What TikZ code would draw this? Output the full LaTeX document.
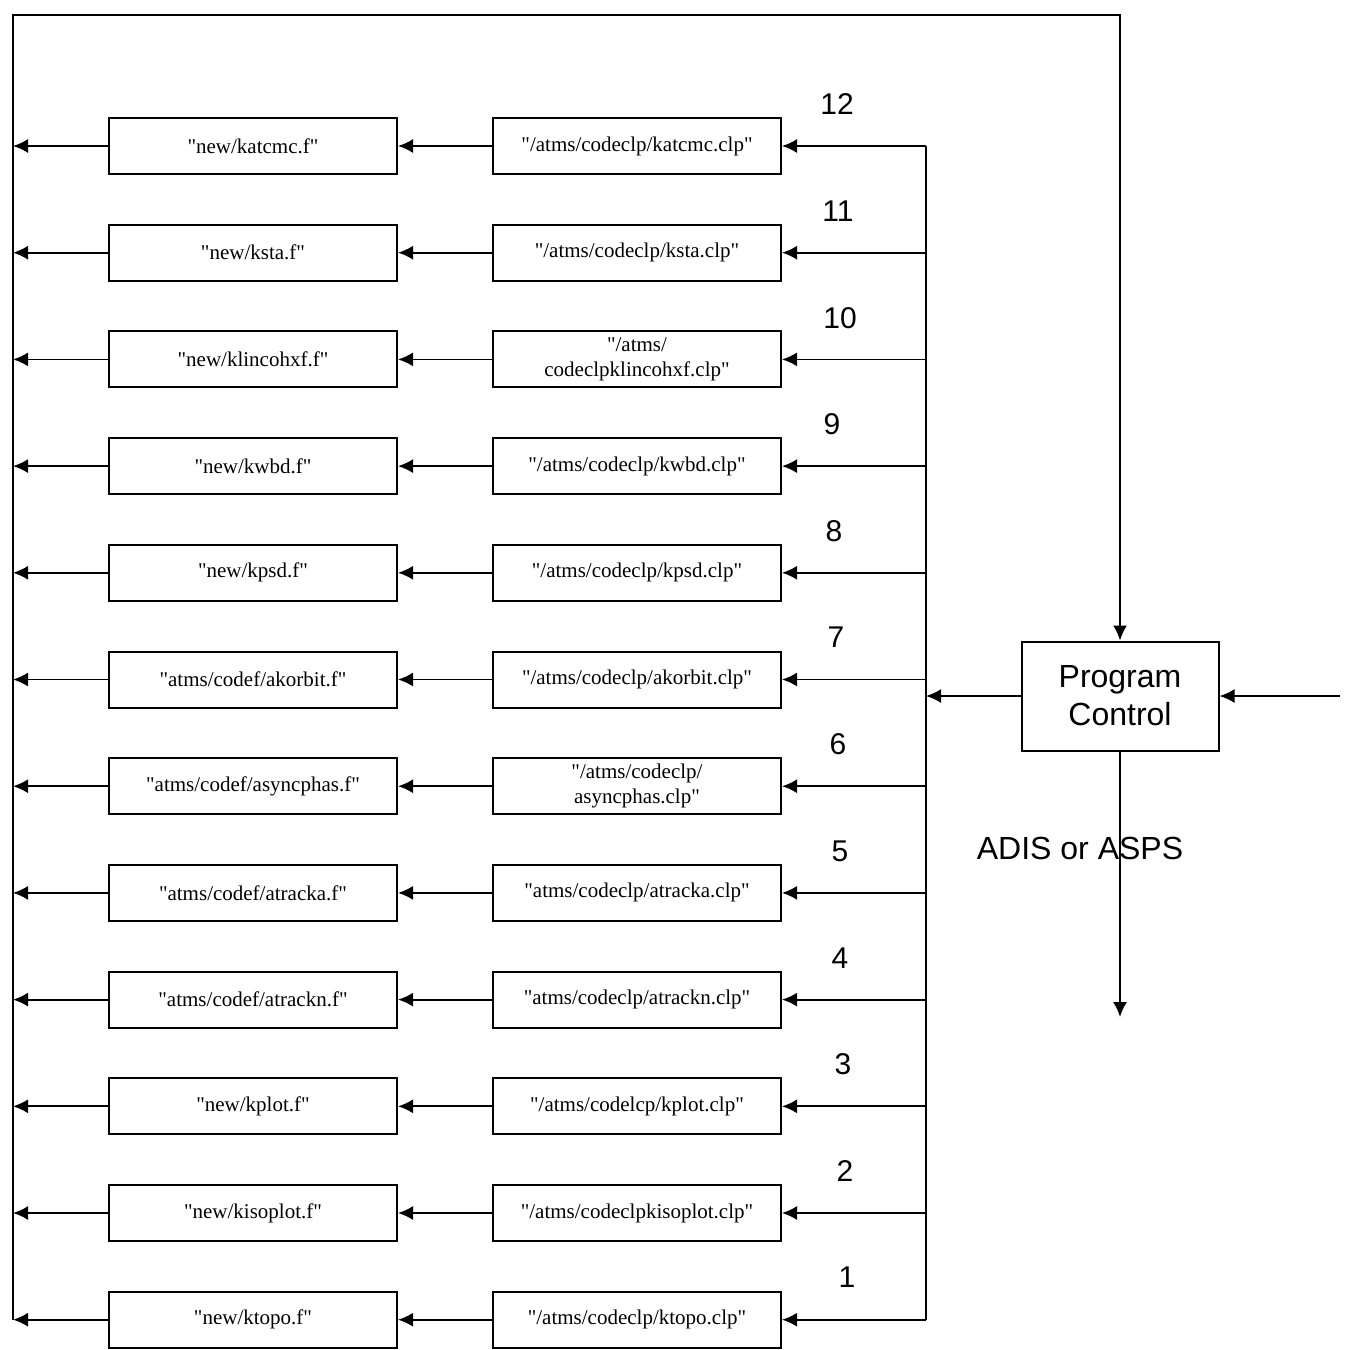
\documentclass[tikz,border=0pt]{standalone}
\usepackage{fontspec}
\setmainfont{Liberation Serif}[Ligatures=TeXOff]
\newfontfamily\arialfont{Liberation Sans}
\usetikzlibrary{arrows.meta,positioning}

\begin{document}
\begin{tikzpicture}[
    x=1pt, y=-1pt,
    node distance=94pt,
    srcbox/.style={rectangle, draw=black, line width=2pt, fill=white, minimum width=288pt, minimum height=56pt, align=center, inner sep=2pt, font=\fontsize{21}{25}\selectfont},
    outbox/.style={srcbox},
    ctrl/.style={rectangle, draw=black, line width=2pt, fill=white, minimum width=197pt, minimum height=109pt, align=center, font=\arialfont\fontsize{32}{38}\selectfont},
    num/.style={font=\arialfont\fontsize{30}{36}\selectfont, inner sep=0pt},
    arrow/.style={draw, -{Latex[length=15pt,width=14pt]}, line width=1.8pt},
    wire/.style={draw, line width=1.8pt}
]
\useasboundingbox (0,0) rectangle (1350,1350);

% clp sources and the f files they produce
\node [srcbox] (c12) at (637,146) {"/atms/codeclp/katcmc.clp"};
\node [outbox, left=of c12] (f12) {"new/katcmc.f"};
\node [srcbox] (c11) at (637,252.7) {"/atms/codeclp/ksta.clp"};
\node [outbox, left=of c11] (f11) {"new/ksta.f"};
\node [srcbox] (c10) at (637,359.4) {"/atms/\\codeclpklincohxf.clp"};
\node [outbox, left=of c10] (f10) {"new/klincohxf.f"};
\node [srcbox] (c9) at (637,466.1) {"/atms/codeclp/kwbd.clp"};
\node [outbox, left=of c9] (f9) {"new/kwbd.f"};
\node [srcbox] (c8) at (637,572.8) {"/atms/codeclp/kpsd.clp"};
\node [outbox, left=of c8] (f8) {"new/kpsd.f"};
\node [srcbox] (c7) at (637,679.5) {"/atms/codeclp/akorbit.clp"};
\node [outbox, left=of c7] (f7) {"atms/codef/akorbit.f"};
\node [srcbox] (c6) at (637,786.2) {"/atms/codeclp/\\asyncphas.clp"};
\node [outbox, left=of c6] (f6) {"atms/codef/asyncphas.f"};
\node [srcbox] (c5) at (637,892.9) {"atms/codeclp/atracka.clp"};
\node [outbox, left=of c5] (f5) {"atms/codef/atracka.f"};
\node [srcbox] (c4) at (637,999.6) {"atms/codeclp/atrackn.clp"};
\node [outbox, left=of c4] (f4) {"atms/codef/atrackn.f"};
\node [srcbox] (c3) at (637,1106.3) {"/atms/codelcp/kplot.clp"};
\node [outbox, left=of c3] (f3) {"new/kplot.f"};
\node [srcbox] (c2) at (637,1213) {"/atms/codeclpkisoplot.clp"};
\node [outbox, left=of c2] (f2) {"new/kisoplot.f"};
\node [srcbox] (c1) at (637,1319.7) {"/atms/codeclp/ktopo.clp"};
\node [outbox, left=of c1] (f1) {"new/ktopo.f"};

% step numbers
\node [num] (n12) at (837,104) {12};
\node [num] (n11) at (838,211) {11};
\node [num] (n10) at (840,318) {10};
\node [num] (n9) at (832,424) {9};
\node [num] (n8) at (834,531) {8};
\node [num] (n7) at (836,637) {7};
\node [num] (n6) at (838,744) {6};
\node [num] (n5) at (840,851) {5};
\node [num] (n4) at (840,958) {4};
\node [num] (n3) at (843,1064) {3};
\node [num] (n2) at (845,1171) {2};
\node [num] (n1) at (847,1277) {1};

\node [ctrl] (pc) at (1120,696) {Program\\Control};
\coordinate (busL) at (13,15);
\coordinate (busR) at (926,0);
\coordinate (inR) at (1340,696);
\coordinate (outD) at (1120,1017);

% feedback loop back to program control
\draw [arrow] (busL |- f1.west) -- (busL) -- (busL -| pc.north) -- (pc.north);

\draw [arrow] (f12.west) -- (f12.west -| busL);
\draw [arrow] (f11.west) -- (f11.west -| busL);
\draw [arrow] (f10.west) -- (f10.west -| busL);
\draw [arrow] (f9.west) -- (f9.west -| busL);
\draw [arrow] (f8.west) -- (f8.west -| busL);
\draw [arrow] (f7.west) -- (f7.west -| busL);
\draw [arrow] (f6.west) -- (f6.west -| busL);
\draw [arrow] (f5.west) -- (f5.west -| busL);
\draw [arrow] (f4.west) -- (f4.west -| busL);
\draw [arrow] (f3.west) -- (f3.west -| busL);
\draw [arrow] (f2.west) -- (f2.west -| busL);
\draw [arrow] (f1.west) -- (f1.west -| busL);

\draw [arrow] (c12) -- (f12);
\draw [arrow] (c11) -- (f11);
\draw [arrow] (c10) -- (f10);
\draw [arrow] (c9) -- (f9);
\draw [arrow] (c8) -- (f8);
\draw [arrow] (c7) -- (f7);
\draw [arrow] (c6) -- (f6);
\draw [arrow] (c5) -- (f5);
\draw [arrow] (c4) -- (f4);
\draw [arrow] (c3) -- (f3);
\draw [arrow] (c2) -- (f2);
\draw [arrow] (c1) -- (f1);

% distribution bus from program control
\draw [wire] (c12.east -| busR) -- (c1.east -| busR);
\draw [arrow] (c12.east -| busR) -- (c12.east);
\draw [arrow] (c11.east -| busR) -- (c11.east);
\draw [arrow] (c10.east -| busR) -- (c10.east);
\draw [arrow] (c9.east -| busR) -- (c9.east);
\draw [arrow] (c8.east -| busR) -- (c8.east);
\draw [arrow] (c7.east -| busR) -- (c7.east);
\draw [arrow] (c6.east -| busR) -- (c6.east);
\draw [arrow] (c5.east -| busR) -- (c5.east);
\draw [arrow] (c4.east -| busR) -- (c4.east);
\draw [arrow] (c3.east -| busR) -- (c3.east);
\draw [arrow] (c2.east -| busR) -- (c2.east);
\draw [arrow] (c1.east -| busR) -- (c1.east);

\draw [arrow] (pc.west) -- (pc.west -| busR);
\draw [arrow] (inR) -- (pc.east);
\draw [arrow] (pc.south) -- (outD);
\node [font=\arialfont\fontsize{32}{38}\selectfont] (sel) at (1080,848) {ADIS or ASPS};

\end{tikzpicture}
\end{document}
